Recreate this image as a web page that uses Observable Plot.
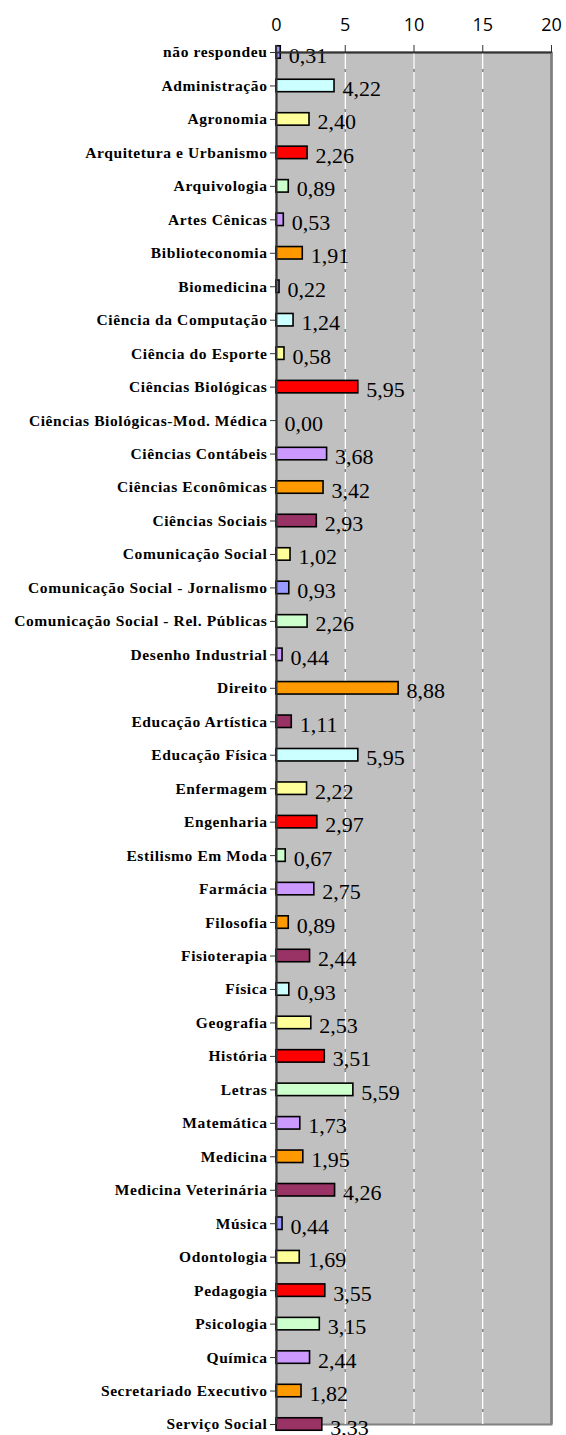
<!DOCTYPE html>
<html>
<head>
<meta charset="utf-8">
<script src="https://cdn.jsdelivr.net/npm/d3@7"></script>
<script src="https://cdn.jsdelivr.net/npm/@observablehq/plot@0.6"></script>
<style>
  html, body { margin: 0; padding: 0; background: white; }
  svg g[aria-label="y-axis tick label"] text { letter-spacing: 0.6px; }
</style>
</head>
<body>
<div id="chart"></div>
<script>
const categories = [
  "não respondeu", "Administração", "Agronomia", "Arquitetura e Urbanismo", "Arquivologia",
  "Artes Cênicas", "Biblioteconomia", "Biomedicina", "Ciência da Computação", "Ciência do Esporte",
  "Ciências Biológicas", "Ciências Biológicas-Mod. Médica", "Ciências Contábeis", "Ciências Econômicas",
  "Ciências Sociais", "Comunicação Social", "Comunicação Social - Jornalismo",
  "Comunicação Social - Rel. Públicas", "Desenho Industrial", "Direito", "Educação Artística",
  "Educação Física", "Enfermagem", "Engenharia", "Estilismo Em Moda", "Farmácia", "Filosofia",
  "Fisioterapia", "Física", "Geografia", "História", "Letras", "Matemática", "Medicina",
  "Medicina Veterinária", "Música", "Odontologia", "Pedagogia", "Psicologia", "Química",
  "Secretariado Executivo", "Serviço Social"
];
const values = [
  0.31, 4.22, 2.40, 2.26, 0.89, 0.53, 1.91, 0.22, 1.24, 0.58,
  5.95, 0.00, 3.68, 3.42, 2.93, 1.02, 0.93, 2.26, 0.44, 8.88,
  1.11, 5.95, 2.22, 2.97, 0.67, 2.75, 0.89, 2.44, 0.93, 2.53,
  3.51, 5.59, 1.73, 1.95, 4.26, 0.44, 1.69, 3.55, 3.15, 2.44,
  1.82, 3.33
];
const colors = [
  "#9999FF", "#CCFFFF", "#FFFF99", "#FF0000", "#CCFFCC", "#CC99FF", "#FF9900", "#9999FF", "#CCFFFF", "#FFFF99",
  "#FF0000", "#CCFFCC", "#CC99FF", "#FF9900", "#993366", "#FFFF99", "#9999FF", "#CCFFCC", "#CC99FF", "#FF9900",
  "#993366", "#CCFFFF", "#FFFF99", "#FF0000", "#CCFFCC", "#CC99FF", "#FF9900", "#993366", "#CCFFFF", "#FFFF99",
  "#FF0000", "#CCFFCC", "#CC99FF", "#FF9900", "#993366", "#9999FF", "#FFFF99", "#FF0000", "#CCFFCC", "#CC99FF",
  "#FF9900", "#993366"
];
const xTicks = [0, 5, 10, 15, 20];
const gridTicks = [5, 10, 15];

const data = categories.map((c, i) => ({category: c, value: values[i], color: colors[i]}));
const fmt = v => v.toFixed(2).replace(".", ",");

const top0 = 52, bottom0 = 1424;
const step = (bottom0 - top0) / (categories.length - 1);

const chart = Plot.plot({
  width: 566,
  height: 1435,
  marginTop: top0,
  marginBottom: 1435 - bottom0,
  marginLeft: 276,
  marginRight: 15,
  style: {background: "white", overflow: "visible"},
  x: {domain: [0, 20], axis: null, label: null},
  y: {type: "band", domain: categories, range: [top0 - step / 2, bottom0 + step / 2], padding: 0, round: false, axis: null, label: null},
  color: {type: "identity"},
  marks: [
    Plot.frame({fill: "#C0C0C0", stroke: "#808080", strokeWidth: 2}),
    Plot.ruleX(gridTicks, {stroke: "#8a8a8a", strokeWidth: 1.5}),
    Plot.ruleX(gridTicks, {stroke: "white", strokeWidth: 1.5, strokeDasharray: "17,3"}),
    Plot.ruleX([20], {stroke: "#808080", strokeWidth: 2.5}),
    Plot.barX(data.filter(d => d.value > 0), {
      x: "value", y: "category", fill: "color", stroke: "black", strokeWidth: 1.6,
      insetTop: 10.5, insetBottom: 10.5
    }),
    Plot.text(data, {
      x: "value", y: "category", text: d => fmt(d.value), textAnchor: "start",
      dx: 8, dy: 3, fontSize: 22, fontFamily: "Liberation Serif", fill: "black"
    }),
    Plot.ruleY([categories[0]], {stroke: "#333", strokeWidth: 2}),
    Plot.ruleX([0], {stroke: "#333", strokeWidth: 2}),
    Plot.axisX({
      anchor: "top", ticks: xTicks, tickSize: 8, tickPadding: 14, label: null,
      fontSize: 18, fontFamily: "Open Sans", stroke: "#333", fill: "black"
    }),
    Plot.axisY({
      anchor: "left", tickSize: 6, tickPadding: 3, label: null,
      fontSize: 15.5, fontWeight: "bold", fontFamily: "Liberation Serif", stroke: "#333", fill: "black"
    })
  ]
});
document.getElementById("chart").appendChild(chart);
</script>
</body>
</html>
